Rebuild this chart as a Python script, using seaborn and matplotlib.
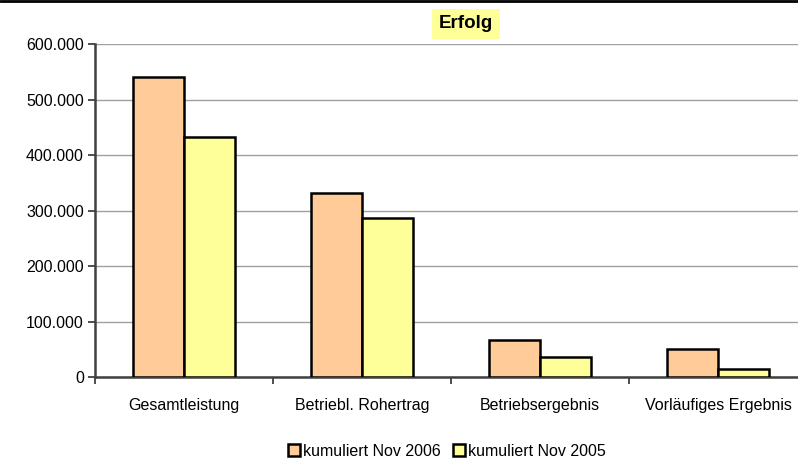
import matplotlib
matplotlib.use("Agg")
import matplotlib.pyplot as plt
import matplotlib.ticker as mticker
import seaborn as sns
import pandas as pd
import numpy as np

categories = ['Gesamtleistung', 'Betriebl. Rohertrag', 'Betriebsergebnis', 'Vorläufiges Ergebnis']
series_names = ['kumuliert Nov 2006', 'kumuliert Nov 2005']
values_2006 = [540000, 331000, 66000, 50000]
values_2005 = [432000, 286000, 36000, 14000]
y_ticks = [0, 100000, 200000, 300000, 400000, 500000, 600000]

df = pd.DataFrame({
    'Kategorie': categories * 2,
    'Serie': [series_names[0]] * 4 + [series_names[1]] * 4,
    'Wert': values_2006 + values_2005,
})

sns.set_theme(style='white')
plt.rcParams['font.family'] = ['Liberation Sans', 'DejaVu Sans']
plt.rcParams['text.color'] = 'black'

fig = plt.figure(figsize=(7.98, 4.61), dpi=100)
ax = fig.add_axes([95 / 798, 84 / 461, 712 / 798, 333 / 461])

colors = ['#FFCC99', '#FFFF99']
sns.barplot(data=df, x='Kategorie', y='Wert', hue='Serie', palette=colors,
            saturation=1, width=0.575, edgecolor='black', linewidth=1.8,
            ax=ax, legend=False, zorder=3)

ax.set_ylim(0, 600000)
ax.set_xlim(-0.5, 3.5)
ax.set_yticks(y_ticks)
ax.yaxis.set_major_formatter(mticker.FuncFormatter(lambda v, p: f'{int(v):,}'.replace(',', '.')))
ax.grid(axis='y', color='#a0a0a0', linewidth=1, zorder=0)
ax.set_axisbelow(True)

for s in ['top', 'right']:
    ax.spines[s].set_visible(False)
for s in ['left', 'bottom']:
    ax.spines[s].set_color('#404040')
    ax.spines[s].set_linewidth(1.8)

ax.set_xlabel('')
ax.set_ylabel('')
ax.tick_params(axis='y', which='major', direction='out', length=5, width=1.3,
               color='#404040', labelsize=11.5, pad=3, left=True, labelcolor='black')
ax.tick_params(axis='x', which='major', length=0, labelsize=11.5, pad=15, labelcolor='black')
ax.set_xticks(np.arange(-0.5, 4.0, 1.0), minor=True)
ax.tick_params(axis='x', which='minor', direction='out', length=5, width=1.3,
               color='#404040', bottom=True)

fig.text(466 / 798, 1 - 24 / 461, 'Erfolg', ha='center', va='center',
         fontsize=13.5, fontweight='bold', color='black',
         bbox=dict(facecolor='#FFFF99', edgecolor='none', pad=5))

handles = [plt.Rectangle((0, 0), 1, 1, facecolor=c, edgecolor='black', linewidth=1.8)
           for c in colors]
fig.legend(handles, series_names, loc='center', bbox_to_anchor=(447 / 798, 1 - 451 / 461),
           ncol=2, frameon=False, fontsize=11.5, handlelength=0.7, handleheight=0.7,
           handletextpad=0.2, columnspacing=0.8, labelcolor='black')

fig.add_artist(plt.Line2D([0, 1], [1 - 1 / 461, 1 - 1 / 461], color='black', linewidth=2))

fig.savefig('out.png', dpi=100)
